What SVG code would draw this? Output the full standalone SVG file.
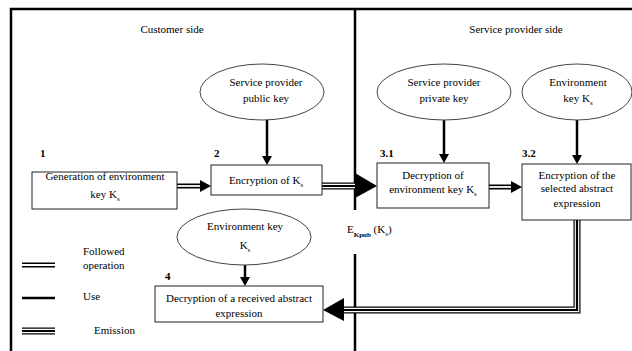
<svg xmlns="http://www.w3.org/2000/svg" width="632" height="351" viewBox="0 0 632 351" font-family="'Liberation Serif', 'DejaVu Serif', serif" font-size="11">
<style>
text{font-family:'Liberation Serif','DejaVu Serif',serif;font-size:11px;fill:#000}
.c{text-anchor:middle}
.n{font-weight:bold}
.box{fill:#fff;stroke:#222;stroke-width:1}
.ell{fill:#fff;stroke:#444;stroke-width:1}
.frame{stroke:#000;stroke-width:2.5;fill:none}
.use{stroke:#000;stroke-width:2.5;fill:none}
.dblo{stroke:#000;stroke-width:5;fill:none}
.dbli{stroke:#fff;stroke-width:1.8;fill:none}
.tro{stroke:#000;stroke-width:7;fill:none}
.trm{stroke:#fff;stroke-width:4.6;fill:none}
.tri{stroke:#000;stroke-width:2.2;fill:none}
.sub{font-size:7px}
</style>
<rect width="632" height="351" fill="#fff"/>
<g id="frame">
<path class="frame" d="M11,351 V9 H632"/>
<path class="frame" d="M355,9 V210 M355,254 V351"/>
<text class="c" x="172" y="33">Customer side</text>
<text class="c" x="516" y="33">Service provider side</text>
</g>
<g id="connectors">
<path class="use" d="M267,120 V157"/>
<polygon points="262,156 272,156 267,165"/>
<path class="use" d="M444,120 V155"/>
<polygon points="439,154 449,154 444,163"/>
<path class="use" d="M577,120 V156"/>
<polygon points="572,155 582,155 577,164"/>
<path class="use" d="M245,265 V278"/>
<polygon points="240,277 250,277 245,286"/>
<path class="dblo" d="M177,186 H202"/><path class="dbli" d="M177,186 H202"/>
<polygon points="200,180 200,192 211,186"/>
<path class="dblo" d="M489,187 H513"/><path class="dbli" d="M489,187 H513"/>
<polygon points="511,181 511,193 522,187"/>
<path class="tro" d="M322,186 H357"/><path class="trm" d="M322,186 H357"/><path class="tri" d="M322,186 H357"/>
<polygon points="355,173 355,198 377,186"/>
<path class="tro" d="M577,220 V310 H342"/><path class="trm" d="M577,220 V310 H342"/><path class="tri" d="M577,220 V310 H342"/>
<polygon points="344,298 344,321 323,310"/>
<text x="347" y="233">E<tspan class="sub n" dy="4">Kpub</tspan><tspan dy="-4"> (K</tspan><tspan class="sub" dy="3">s</tspan><tspan dy="-3">)</tspan></text>
</g>
<g id="pubkey">
<ellipse class="ell" cx="262" cy="92" rx="62" ry="28"/>
<text class="c" x="266" y="86">Service provider</text>
<text class="c" x="266" y="102">public key</text>
</g>
<g id="privkey">
<ellipse class="ell" cx="444" cy="92" rx="67" ry="28"/>
<text class="c" x="444" y="86">Service provider</text>
<text class="c" x="444" y="102">private key</text>
</g>
<g id="envkey-sp">
<ellipse class="ell" cx="577" cy="92" rx="55" ry="28"/>
<text class="c" x="578" y="86">Environment</text>
<text class="c" x="578" y="102">key K<tspan class="sub" dy="3">s</tspan></text>
</g>
<g id="step1">
<text class="n" x="40" y="157">1</text>
<rect class="box" x="32" y="172" width="145" height="37"/>
<text class="c" x="105" y="180">Generation of environment</text>
<text class="c" x="105" y="198">key K<tspan class="sub" dy="3">s</tspan></text>
</g>
<g id="step2">
<text class="n" x="214" y="157">2</text>
<rect class="box" x="211" y="165" width="111" height="30"/>
<text class="c" x="266" y="184">Encryption of K<tspan class="sub" dy="3">s</tspan></text>
</g>
<g id="step31">
<text class="n" x="380" y="157">3.1</text>
<rect class="box" x="377" y="163" width="112" height="45"/>
<text class="c" x="433" y="179">Decryption of</text>
<text class="c" x="433" y="193">environment key K<tspan class="sub" dy="3">s</tspan></text>
</g>
<g id="step32">
<text class="n" x="522" y="157">3.2</text>
<rect class="box" x="522" y="164" width="109" height="56"/>
<text class="c" x="577" y="179">Encryption of the</text>
<text class="c" x="577" y="192">selected abstract</text>
<text class="c" x="577" y="207">expression</text>
</g>
<g id="envkey-c">
<ellipse class="ell" cx="244" cy="237" rx="67" ry="28"/>
<text class="c" x="245" y="230">Environment key</text>
<text class="c" x="245" y="249">K<tspan class="sub" dy="3">s</tspan></text>
</g>
<g id="step4">
<text class="n" x="165" y="280">4</text>
<rect class="box" x="155" y="286" width="168" height="36"/>
<text class="c" x="239" y="302">Decryption of a received abstract</text>
<text class="c" x="239" y="317">expression</text>
</g>
<g id="legend">
<path class="dblo" d="M22,265 H55"/><path class="dbli" d="M22,265 H55"/>
<text x="83" y="255">Followed</text>
<text x="83" y="269">operation</text>
<path class="use" d="M22,298 H55"/>
<text x="83" y="300">Use</text>
<path class="tro" d="M22,331 H55"/><path class="trm" d="M22,331 H55"/><path class="tri" d="M22,331 H55"/>
<text x="94" y="334">Emission</text>
</g>
</svg>
